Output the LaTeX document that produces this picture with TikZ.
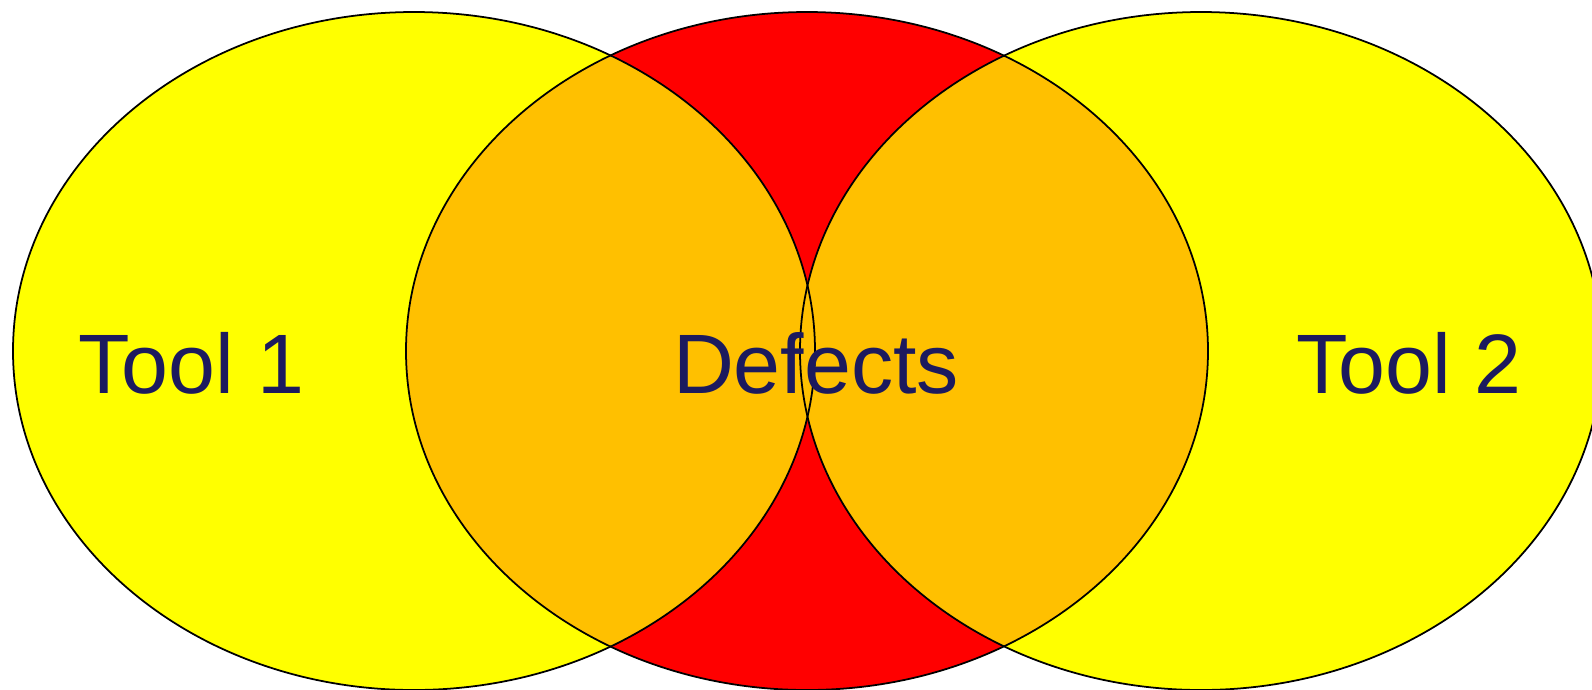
\documentclass[tikz,border=0pt]{standalone}
\usepackage{fontspec}
\setmainfont{Liberation Sans}
\definecolor{vyellow}{RGB}{255,255,0}
\definecolor{vred}{RGB}{255,0,0}
\definecolor{vorange}{RGB}{255,192,0}
\definecolor{vtext}{RGB}{28,26,94}
\tikzset{
  venn label/.style = {anchor = base, inner sep = 0pt, text = vtext, font = \fontsize{24}{28}\selectfont},
  venn line/.style = {draw = black, line width = 0.5pt}
}
\begin{document}
\begin{tikzpicture}
	\useasboundingbox (0,0) rectangle (15.92,-6.89);
	\clip (0,0) rectangle (15.92,-6.89);
	% the three sets
	\fill [vyellow] (4.14,-3.51) ellipse (4.01cm and 3.39cm);
	\fill [vred] (8.07,-3.51) ellipse (4.01cm and 3.39cm);
	\fill [vyellow] (12.01,-3.51) ellipse (4.01cm and 3.39cm);
	% overlaps
	\begin{scope}
	\clip (8.07,-3.51) ellipse (4.01cm and 3.39cm);
	\fill [vorange] (4.14,-3.51) ellipse (4.01cm and 3.39cm);
	\fill [vorange] (12.01,-3.51) ellipse (4.01cm and 3.39cm);
	\end{scope}
	% outlines
	\foreach \x in {4.14,8.07,12.01}{
	\draw [venn line] (\x,-3.51) ellipse (4.01cm and 3.39cm);
	}
	\node [venn label] (tool1) at (1.915,-3.93) {Tool 1};
	\node [venn label] (defects) at (8.16,-3.93) {Defects};
	\node [venn label] (tool2) at (14.09,-3.93) {Tool 2};
\end{tikzpicture}
\end{document}
